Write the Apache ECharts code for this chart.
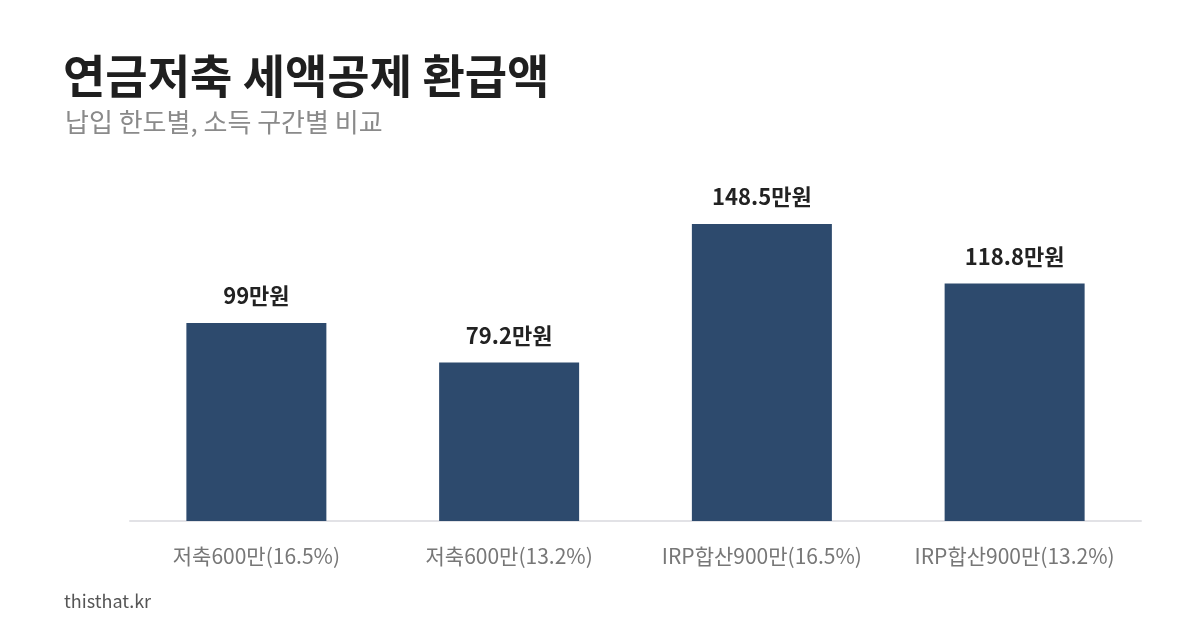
<!DOCTYPE html>
<html>
<head>
<meta charset="utf-8">
<script src="https://cdn.jsdelivr.net/npm/echarts@6/dist/echarts.min.js"></script>
<style>
  html, body { margin:0; padding:0; background:#fff; }
  #chart { width:1200px; height:630px; }
</style>
</head>
<body>
<div id="chart"></div>
<script>
// 납입 한도 / 소득 구간
var categories = ['저축600만(16.5%)', '저축600만(13.2%)', 'IRP합산900만(16.5%)', 'IRP합산900만(13.2%)'];
var refunds = [99, 79.2, 148.5, 118.8]; // 만원

var font = '"Noto Sans CJK KR", "Noto Sans", sans-serif';

var myChart = echarts.init(document.getElementById('chart'));
var option = {
    backgroundColor: '#fff',
    animation: false,
    textStyle: { fontFamily: font },
    title: [
        {
            text: '연금저축 세액공제 환급액',
            left: 58, top: 48,
            textStyle: { fontSize: 46, fontWeight: 'bold', color: '#1f1f1f', fontFamily: font }
        },
        {
            text: '납입 한도별, 소득 구간별 비교',
            left: 60, top: 104,
            textStyle: { fontSize: 26, fontWeight: 'normal', color: '#8a8a8a', fontFamily: font }
        },
        {
            text: 'thisthat.kr',
            left: 59, top: 587,
            textStyle: { fontSize: 18, fontWeight: 'normal', color: '#555', fontFamily: font }
        }
    ],
    grid: { left: 130, right: 59, top: 201, bottom: 109 },
    xAxis: {
        type: 'category',
        data: categories,
        axisLine: { lineStyle: { color: '#e2e2e6', width: 2 } },
        axisTick: { show: false },
        axisLabel: { interval: 0, color: '#777', fontSize: 21, margin: 25, fontFamily: font }
    },
    yAxis: {
        type: 'value',
        min: 0, max: 160,
        show: false,
        splitLine: { show: false }
    },
    series: [{
        type: 'bar',
        data: refunds,
        barWidth: 140,
        itemStyle: { color: '#2d4a6d' },
        label: {
            show: true,
            position: 'top',
            distance: 16,
            fontSize: 22,
            fontWeight: 'bold',
            color: '#222',
            fontFamily: font,
            formatter: function(p){ return p.value + '만원'; }
        }
    }]
};
myChart.setOption(option);
</script>
</body>
</html>
